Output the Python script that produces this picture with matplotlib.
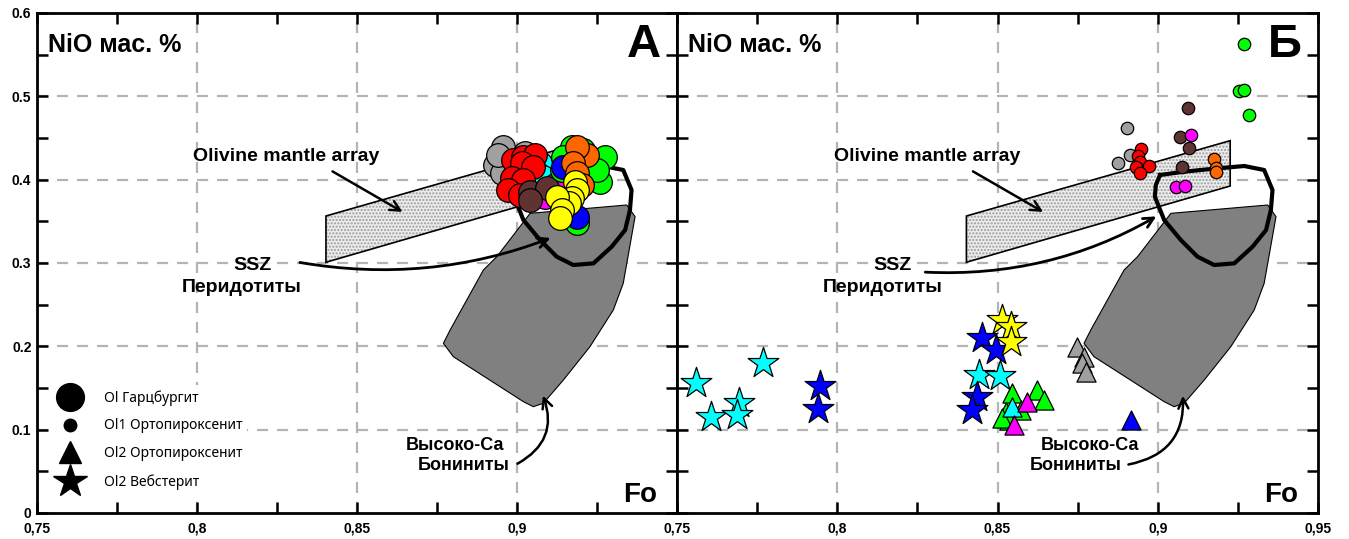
import matplotlib
matplotlib.use('Agg')
import matplotlib.pyplot as plt
from matplotlib.patches import Polygon
from matplotlib.lines import Line2D
from matplotlib.ticker import MultipleLocator, FuncFormatter

plt.rcParams['font.family'] = ['Liberation Sans', 'DejaVu Sans']

# ---------- reference fields (Fo, NiO) ----------
mantle_fo = [0.8403, 0.8403, 0.9226, 0.9226]
mantle_ni = [0.3564, 0.3009, 0.3924, 0.4468]

ssz_fo = [0.9007, 0.9082, 0.9187, 0.9270, 0.9332, 0.9358, 0.9353, 0.9338, 0.9296,
          0.9239, 0.9176, 0.9124, 0.9072, 0.9020, 0.8991, 0.8994, 0.9007]
ssz_ni = [0.4056, 0.4096, 0.4136, 0.4164, 0.4116, 0.3876, 0.3636, 0.3396, 0.3196,
          0.2996, 0.2976, 0.3076, 0.3276, 0.3516, 0.3796, 0.3936, 0.4056]

bon_fo = [0.9041, 0.9343, 0.9369, 0.9332, 0.9301, 0.9228, 0.9145, 0.9082, 0.9051,
          0.9020, 0.8801, 0.8770, 0.8791, 0.8895, 0.8937, 0.9025]
bon_ni = [0.3596, 0.3696, 0.3556, 0.2756, 0.2436, 0.1996, 0.1596, 0.1316, 0.1276,
          0.1336, 0.1876, 0.2036, 0.2196, 0.2916, 0.3076, 0.3516]

# ---------- panel A: Ol harzburgite (big circles) ----------
A_grey_fo = [0.8957, 0.8931, 0.8952, 0.9025, 0.8940]
A_grey_ni = [0.4396, 0.4176, 0.4076, 0.4316, 0.4300]
A_cyan_fo = [0.9072, 0.9061, 0.9082]
A_cyan_ni = [0.4196, 0.4076, 0.4036]
A_red_fo = [0.8988, 0.9020, 0.9056, 0.9015, 0.9051, 0.8983, 0.9020, 0.8973, 0.9009]
A_red_ni = [0.4236, 0.4276, 0.4296, 0.4196, 0.4156, 0.4016, 0.3996, 0.3876, 0.3816]
A_mag_fo = [0.9119, 0.9088]
A_mag_ni = [0.3936, 0.3796]
A_brown_fo = [0.9041, 0.9093, 0.9041]
A_brown_ni = [0.3856, 0.3896, 0.3756]
A_green_fo = [0.9171, 0.9145, 0.9275, 0.9259, 0.9140, 0.9187, 0.9249, 0.9206]
A_green_ni = [0.4396, 0.4276, 0.4276, 0.3976, 0.4116, 0.3476, 0.4116, 0.4356]
A_blue_fo = [0.9145, 0.9187]
A_blue_ni = [0.4156, 0.3556]
A_orange_fo = [0.9218, 0.9187, 0.9176, 0.9187, 0.9202]
A_orange_ni = [0.4296, 0.4396, 0.4196, 0.4076, 0.3936]
A_yellow_fo = [0.9181, 0.9187, 0.9171, 0.9161, 0.9124, 0.9140, 0.9134]
A_yellow_ni = [0.3976, 0.3876, 0.3776, 0.3716, 0.3796, 0.3636, 0.3536]

# ---------- panel B: Ol1 orthopyroxenite (small circles) ----------
B_grey_fo = [0.8905, 0.8914, 0.8877]
B_grey_ni = [0.4624, 0.4296, 0.4204]
B_red_fo = [0.8949, 0.8939, 0.8945, 0.8973, 0.8931, 0.8945]
B_red_ni = [0.4364, 0.4284, 0.4216, 0.4164, 0.4156, 0.4076]
B_green_fo = [0.9270, 0.9254, 0.9270, 0.9285]
B_green_ni = [0.5624, 0.5064, 0.5076, 0.4776]
B_brown_fo = [0.9095, 0.9069, 0.9098, 0.9077]
B_brown_ni = [0.4856, 0.4516, 0.4376, 0.4156]
B_mag_fo = [0.9105, 0.9058, 0.9084]
B_mag_ni = [0.4536, 0.3916, 0.3928]
B_orange_fo = [0.9176, 0.9181, 0.9181]
B_orange_ni = [0.4244, 0.4136, 0.4096]

# Ol2 orthopyroxenite (triangles)
T_grey_fo = [0.8749, 0.8770, 0.8765, 0.8775]
T_grey_ni = [0.1996, 0.1876, 0.1796, 0.1696]
T_green_fo = [0.8546, 0.8624, 0.8645, 0.8525, 0.8572, 0.8535, 0.8515]
T_green_ni = [0.1436, 0.1476, 0.1356, 0.1216, 0.1236, 0.1116, 0.1136]
T_cyan_fo = [0.8546]
T_cyan_ni = [0.1276]
T_mag_fo = [0.8593, 0.8553]
T_mag_ni = [0.1336, 0.1056]
T_blue_fo = [0.8918]
T_blue_ni = [0.1116]

# Ol2 websterite (stars)
S_cyan_fo = [0.7559, 0.7768, 0.7605, 0.7694, 0.7687, 0.8442, 0.8509]
S_cyan_ni = [0.1564, 0.1796, 0.1156, 0.1316, 0.1176, 0.1656, 0.1644]
S_blue_fo = [0.7945, 0.7940, 0.8452, 0.8494, 0.8437, 0.8421]
S_blue_ni = [0.1528, 0.1248, 0.2096, 0.1956, 0.1396, 0.1236]
S_yellow_fo = [0.8515, 0.8541, 0.8541]
S_yellow_ni = [0.2316, 0.2236, 0.2056]

GREY = '#a0a0a0'
RED = '#ff0000'
GREEN = '#00ff00'
BLUE = '#0000ff'
CYAN = '#00ffff'
MAG = '#ff00ff'
YEL = '#ffff00'
ORA = '#ff6600'
BRO = '#603333'

fig = plt.figure(figsize=(13.49, 5.39), dpi=100)
axA = fig.add_axes([37 / 1349, 26 / 539, 640 / 1349, 500 / 539])
axB = fig.add_axes([677 / 1349, 26 / 539, 641 / 1349, 500 / 539])

bold = dict(fontweight='bold', color='black')


def base(ax, letter, ssz_tail, ssz_head, ssz_rad, bon_tail, bon_head, bon_txt1, bon_txt2):
    ax.set_xlim(0.75, 0.95)
    ax.set_ylim(0, 0.6)
    ax.xaxis.set_major_locator(MultipleLocator(0.05))
    ax.xaxis.set_minor_locator(MultipleLocator(0.025))
    ax.yaxis.set_major_locator(MultipleLocator(0.1))
    ax.yaxis.set_minor_locator(MultipleLocator(0.05))
    ax.tick_params(which='both', direction='in', top=True, right=True,
                   length=8, width=1.8, labelsize=10)
    for s in ax.spines.values():
        s.set_linewidth(2)
    for v in [0.8, 0.85, 0.9]:
        ax.axvline(v, color='#b4b4b4', lw=1.6, ls=(0, (5, 4)), zorder=0)
    for v in [0.1, 0.2, 0.3, 0.4, 0.5]:
        ax.axhline(v, color='#b4b4b4', lw=1.6, ls=(0, (5, 4)), zorder=0)

    ax.add_patch(Polygon(list(zip(bon_fo, bon_ni)), closed=True, facecolor='#808080',
                         edgecolor='black', lw=0.8, zorder=1))
    ax.add_patch(Polygon(list(zip(mantle_fo, mantle_ni)), closed=True, facecolor='#ececec',
                         edgecolor='#9a9a9a', hatch='.....', lw=0, zorder=1))
    ax.add_patch(Polygon(list(zip(mantle_fo, mantle_ni)), closed=True, fill=False,
                         edgecolor='black', lw=1.2, zorder=1.1))
    ax.plot(ssz_fo, ssz_ni, color='black', lw=3, zorder=1.2, solid_joinstyle='round')

    ax.text(0.7534, 0.5616, 'NiO мас. %', fontsize=18, va='center', ha='left', **bold)
    ax.text(0.9395, 0.5616, letter, fontsize=34, va='center', ha='center', **bold)
    ax.text(0.9384, 0.0216, 'Fo', fontsize=20, va='center', ha='center', **bold)

    ax.text(0.828, 0.4272, 'Olivine mantle array', fontsize=14, ha='center', va='center', **bold)
    ax.annotate('', xy=(0.865, 0.3596), xytext=(0.8416, 0.4116),
                arrowprops=dict(arrowstyle='->', lw=1.8, color='black',
                                mutation_scale=18), zorder=3)

    ax.text(0.8172, 0.2976, 'SSZ', fontsize=14, ha='center', va='center', **bold)
    ax.text(0.8141, 0.2712, 'Перидотиты', fontsize=14, ha='center', va='center', **bold)
    ax.annotate('', xy=ssz_head, xytext=ssz_tail,
                arrowprops=dict(arrowstyle='->', lw=2, color='black', mutation_scale=18,
                                connectionstyle='arc3,rad=%s' % ssz_rad), zorder=3)

    ax.text(bon_txt1[0], bon_txt1[1], 'Высоко-Са', fontsize=13, ha='center', va='center', **bold)
    ax.text(bon_txt2[0], bon_txt2[1], 'Бониниты', fontsize=13, ha='center', va='center', **bold)
    ax.annotate('', xy=bon_head, xytext=bon_tail,
                arrowprops=dict(arrowstyle='->', lw=1.8, color='black', mutation_scale=18,
                                connectionstyle='arc3,rad=0.45'), zorder=3)


base(axA, 'А', (0.8313, 0.3012), (0.9113, 0.3312), 0.14,
     (0.8994, 0.0576), (0.9078, 0.144), (0.8806, 0.0816), (0.8834, 0.0576))
base(axB, 'Б', (0.8266, 0.2892), (0.9003, 0.3576), 0.15,
     (0.8900, 0.0576), (0.9078, 0.144), (0.8790, 0.0816), (0.8744, 0.0576))

# tick labels
axA.yaxis.set_major_formatter(FuncFormatter(lambda v, p: '%g' % round(v, 2)))
axA.xaxis.set_major_formatter(FuncFormatter(
    lambda v, p: '' if v > 0.94 else ('%g' % round(v, 3)).replace('.', ',')))
axB.xaxis.set_major_formatter(FuncFormatter(lambda v, p: ('%g' % round(v, 3)).replace('.', ',')))
axB.yaxis.set_major_formatter(FuncFormatter(lambda v, p: ''))
for ax in (axA, axB):
    for lab in ax.get_xticklabels() + ax.get_yticklabels():
        lab.set_fontweight('bold')
    ax.tick_params(axis='x', pad=6)
    ax.tick_params(axis='y', pad=4)

# panel A points
big = 290
for fo, ni, c in [(A_grey_fo, A_grey_ni, GREY), (A_cyan_fo, A_cyan_ni, CYAN),
                  (A_red_fo, A_red_ni, RED), (A_mag_fo, A_mag_ni, MAG),
                  (A_brown_fo, A_brown_ni, BRO), (A_green_fo, A_green_ni, GREEN),
                  (A_blue_fo, A_blue_ni, BLUE), (A_orange_fo, A_orange_ni, ORA),
                  (A_yellow_fo, A_yellow_ni, YEL)]:
    axA.scatter(fo, ni, s=big, c=c, edgecolors='black', linewidths=0.9, zorder=4)

# panel B points
for fo, ni, c in [(B_grey_fo, B_grey_ni, GREY), (B_red_fo, B_red_ni, RED),
                  (B_green_fo, B_green_ni, GREEN), (B_brown_fo, B_brown_ni, BRO),
                  (B_mag_fo, B_mag_ni, MAG), (B_orange_fo, B_orange_ni, ORA)]:
    axB.scatter(fo, ni, s=80, c=c, edgecolors='black', linewidths=0.9, zorder=4)

for fo, ni, c in [(T_grey_fo, T_grey_ni, GREY), (T_green_fo, T_green_ni, GREEN),
                  (T_cyan_fo, T_cyan_ni, CYAN), (T_mag_fo, T_mag_ni, MAG),
                  (T_blue_fo, T_blue_ni, BLUE)]:
    axB.scatter(fo, ni, s=190, marker='^', c=c, edgecolors='black', linewidths=0.9, zorder=4)

for fo, ni, c in [(S_cyan_fo, S_cyan_ni, CYAN), (S_blue_fo, S_blue_ni, BLUE),
                  (S_yellow_fo, S_yellow_ni, YEL)]:
    axB.scatter(fo, ni, s=540, marker='*', c=c, edgecolors='black', linewidths=0.9, zorder=4)

# legend
handles = [Line2D([], [], ls='', marker='o', color='black', markersize=20),
           Line2D([], [], ls='', marker='o', color='black', markersize=9),
           Line2D([], [], ls='', marker='^', color='black', markersize=16),
           Line2D([], [], ls='', marker='*', color='black', markersize=25)]
labels = ['Ol Гарцбургит', 'Ol1 Ортопироксенит', 'Ol2 Ортопироксенит', 'Ol2 Вебстерит']
leg = axA.legend(handles, labels, loc='lower left', bbox_to_anchor=(0.018, 0.031),
                 frameon=True, fancybox=False, edgecolor='none', framealpha=1,
                 prop={'family': ['Noto Sans', 'DejaVu Sans'], 'size': 10},
                 handletextpad=1.45, labelspacing=0.93, borderpad=0.35, handlelength=2.0,
                 borderaxespad=0.2)
leg.set_zorder(5)

fig.savefig('out.png', dpi=100)
